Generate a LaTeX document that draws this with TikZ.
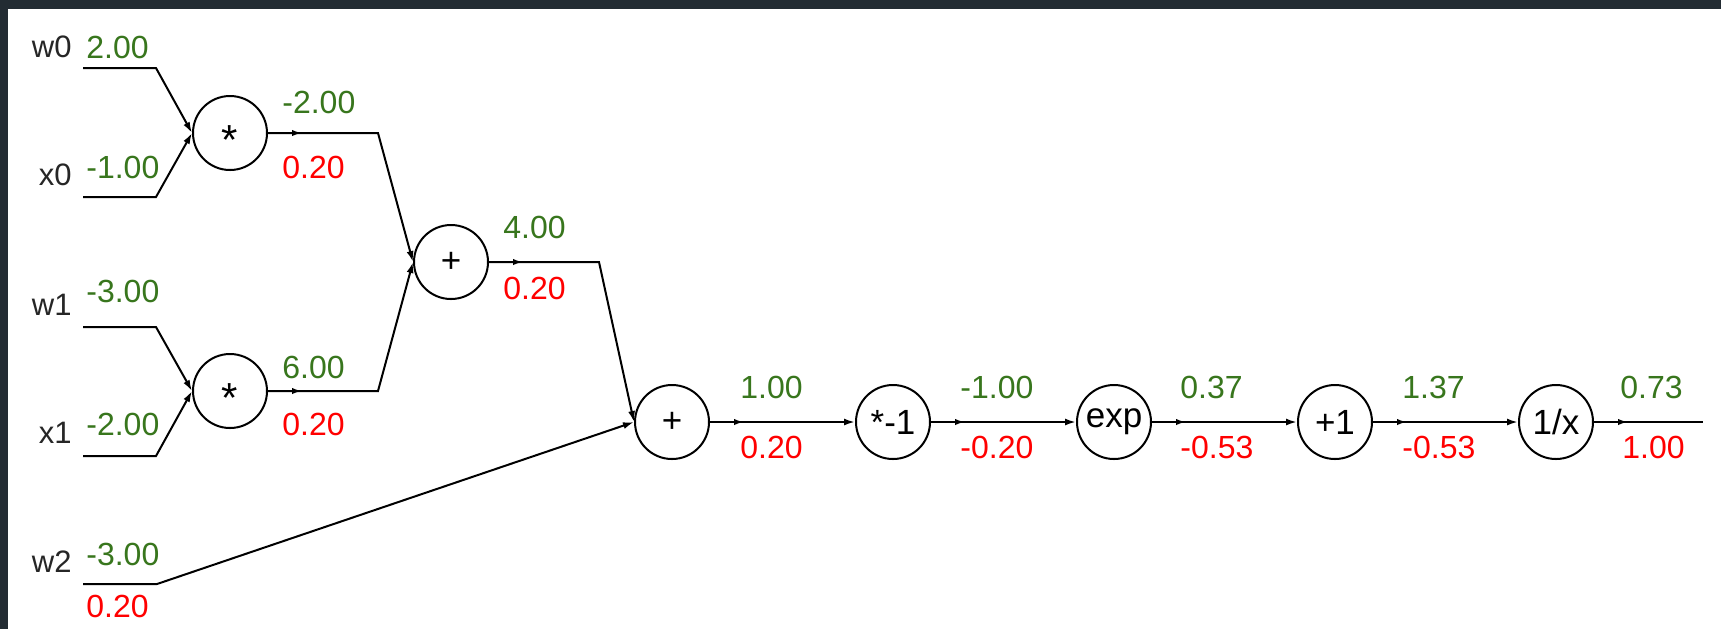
\documentclass[tikz,border=0pt]{standalone}
\usepackage{fontspec}
\setmainfont{Liberation Sans}
\usetikzlibrary{arrows.meta,decorations.markings}
\definecolor{gval}{HTML}{38761D}
\definecolor{rgrad}{HTML}{FF0000}
\definecolor{framec}{HTML}{232C33}
\begin{document}
\begin{tikzpicture}[x=0.5pt,y=-0.5pt,
  op/.style={circle,draw,line width=1pt,minimum size=37pt,inner sep=0pt,font=\fontsize{17.5}{18}\selectfont},
  wire/.style={line width=1pt},
  tipend/.style={-{Latex[length=5.5pt,width=3.5pt]}},
  midarrow/.style={postaction={decorate},decoration={markings,mark=at position 17pt with {\arrow{Latex[length=5pt,width=3.2pt]}}}},
  gv/.style={text=gval,anchor=base west,inner sep=0pt,font=\fontsize{16}{16}\selectfont},
  rg/.style={gv,text=rgrad},
  nm/.style={anchor=base east,inner sep=0pt,text=black!85,font=\fontsize{15.5}{16}\selectfont}]
\useasboundingbox (0,0) rectangle (1721,629);
\fill[white] (0,0) rectangle (1721,629);
\fill[framec] (0,0) rectangle (1721,8.7);
\fill[framec] (0,0) rectangle (8.3,629);

% operation nodes
\node[op] (mul0) at (230,133) {\raisebox{-0.62em}[0pt][0pt]{\fontsize{21}{21}\selectfont *}};
\node[op] (mul1) at (230,391) {\raisebox{-0.62em}[0pt][0pt]{\fontsize{21}{21}\selectfont *}};
\node[op] (add0) at (451,262) {+};
\node[op] (add1) at (672,422) {+};
\node[op] (neg) at (893,422) {*-1};
\node[op] (expn) at (1114,422) {exp};
\node[op] (plus1) at (1335,422) {+1};
\node[op] (inv) at (1556,422) {1/x};

% input names
\node[nm] (lw0) at (72,57) {w0};
\node[nm] (lx0) at (72,185) {x0};
\node[nm] (lw1) at (72,315) {w1};
\node[nm] (lx1) at (72,443) {x1};
\node[nm] (lw2) at (72,572) {w2};

% input values
\node[gv] (vw0) at (86,58) {2.00};
\node[gv] (vx0) at (86,178) {-1.00};
\node[gv] (vw1) at (86,302) {-3.00};
\node[gv] (vx1) at (86,435) {-2.00};
\node[gv] (vw2) at (86,565) {-3.00};
\node[rg] (gw2) at (86,617) {0.20};

% input wire starts
\coordinate (sw0) at (83,68);
\coordinate (sx0) at (83,197);
\coordinate (sw1) at (83,327);
\coordinate (sx1) at (83,456);
\coordinate (sw2) at (83,584);
\coordinate (outc) at (1703,422);

% input wires
\draw[wire,tipend] (sw0) -- ++(73,0) -- (mul0.west);
\draw[wire,tipend] (sx0) -- ++(73,0) -- (mul0.west);
\draw[wire,tipend] (sw1) -- ++(73,0) -- (mul1.west);
\draw[wire,tipend] (sx1) -- ++(73,0) -- (mul1.west);
\draw[wire,tipend] (sw2) -- ++(74,0) -- (add1.west);

% internal wires
\draw[wire,tipend,midarrow] (mul0.east) -- ++(110,0) -- (add0.west);
\draw[wire,tipend,midarrow] (mul1.east) -- ++(110,0) -- (add0.west);
\draw[wire,tipend,midarrow] (add0.east) -- ++(110,0) -- (add1.west);
\draw[wire,tipend,midarrow] (add1.east) -- (neg.west);
\draw[wire,tipend,midarrow] (neg.east) -- (expn.west);
\draw[wire,tipend,midarrow] (expn.east) -- (plus1.west);
\draw[wire,tipend,midarrow] (plus1.east) -- (inv.west);
\draw[wire,midarrow] (inv.east) -- (outc);

% edge values and gradients
\node[gv] (v1) at (282,113) {-2.00};
\node[rg] (g1) at (282,178) {0.20};
\node[gv] (v2) at (282,378) {6.00};
\node[rg] (g2) at (282,435) {0.20};
\node[gv] (v3) at (503,238) {4.00};
\node[rg] (g3) at (503,299) {0.20};
\node[gv] (v4) at (740,398) {1.00};
\node[rg] (g4) at (740,458) {0.20};
\node[gv] (v5) at (960,398) {-1.00};
\node[rg] (g5) at (960,458) {-0.20};
\node[gv] (v6) at (1180,398) {0.37};
\node[rg] (g6) at (1180,458) {-0.53};
\node[gv] (v7) at (1402,398) {1.37};
\node[rg] (g7) at (1402,458) {-0.53};
\node[gv] (v8) at (1620,398) {0.73};
\node[rg] (g8) at (1622,458) {1.00};
\end{tikzpicture}
\end{document}
